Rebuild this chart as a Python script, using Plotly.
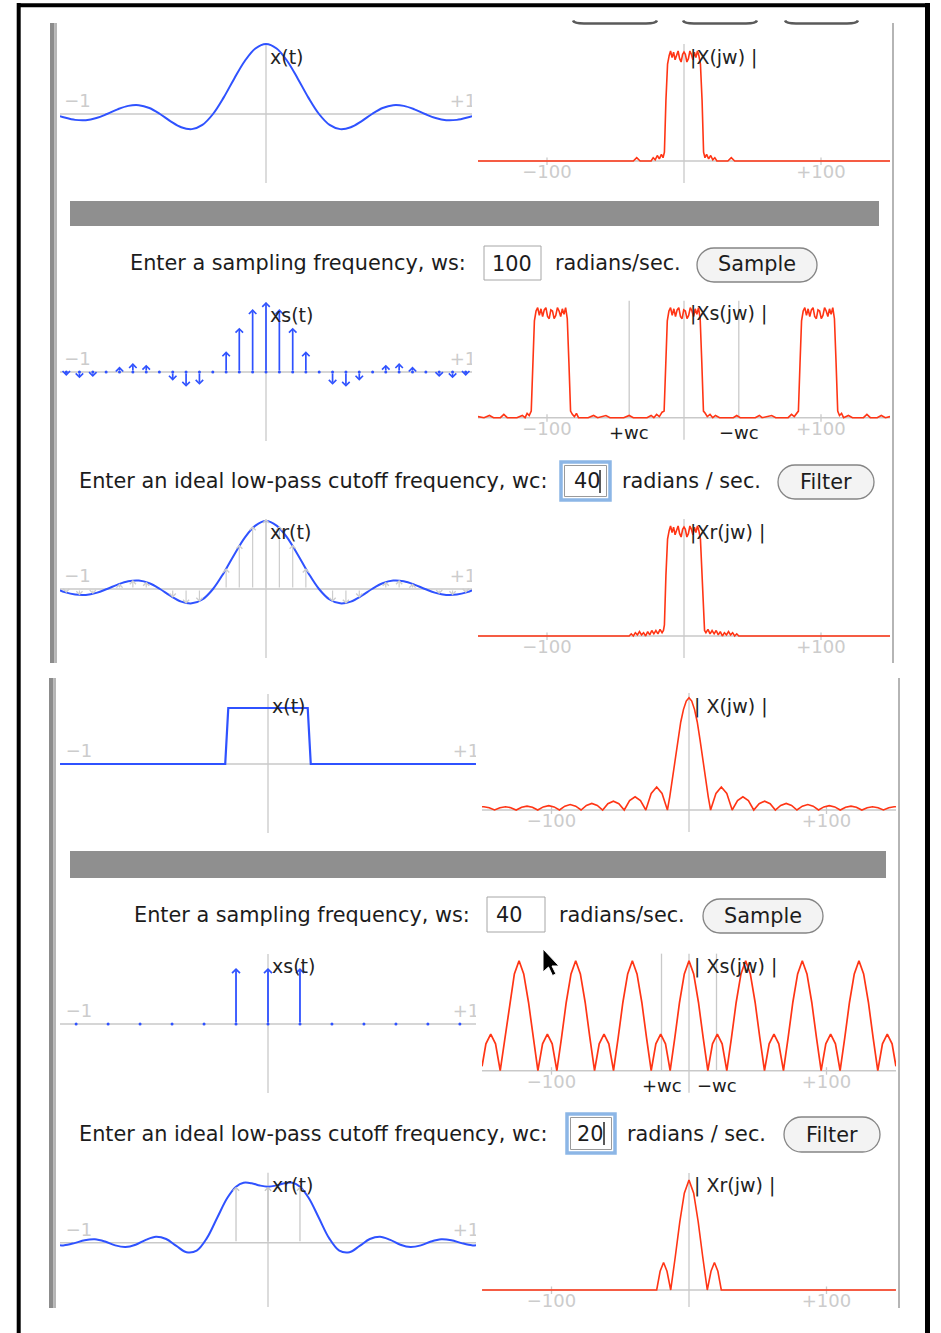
import plotly.graph_objects as go

W, H = 941, 1333
FONT = "DejaVu Sans"
BLUE = "#2f52ff"
RED = "#ff3515"
AXC = "#c9c9c9"
LBL = "#cccccc"
TXT = "#1c1c1c"

# ====================== DATA ======================
# ---------- top panel : ws = 100 rad/s, wc = 40 rad/s ----------
top_ws_text = "100"
top_wc_text = "40"
top_wc = 40

top_t = [-0.972, -0.95, -0.9, -0.85, -0.8, -0.75, -0.7, -0.65, -0.6, -0.55, -0.5, -0.45, -0.4, -0.35,
         -0.3, -0.25, -0.2, -0.15, -0.1, -0.05, 0.0, 0.05, 0.1, 0.15, 0.2, 0.25, 0.3, 0.35, 0.4, 0.45,
         0.5, 0.55, 0.6, 0.65, 0.7, 0.75, 0.8, 0.85, 0.9, 0.95, 0.972]
top_x = [-0.03, -0.05, -0.084, -0.089, -0.058, 0.0, 0.067, 0.116, 0.126, 0.085, 0.0, -0.104, -0.189,
         -0.216, -0.156, 0.0, 0.234, 0.505, 0.757, 0.936, 1.0, 0.936, 0.757, 0.505, 0.234, 0.0, -0.156,
         -0.216, -0.189, -0.104, 0.0, 0.085, 0.126, 0.116, 0.067, 0.0, -0.058, -0.089, -0.084, -0.05, -0.03]
top_xr = [-0.02, -0.045, -0.08, -0.085, -0.055, 0.0, 0.063, 0.11, 0.12, 0.082, 0.0, -0.1, -0.18, -0.205,
          -0.15, 0.0, 0.226, 0.49, 0.735, 0.905, 0.97, 0.905, 0.735, 0.49, 0.226, 0.0, -0.15, -0.205,
          -0.18, -0.1, 0.0, 0.082, 0.12, 0.11, 0.063, 0.0, -0.055, -0.085, -0.08, -0.045, -0.02]

top_ts = [-0.942, -0.880, -0.817, -0.754, -0.691, -0.628, -0.565, -0.503, -0.440, -0.377, -0.314, -0.251,
          -0.188, -0.126, -0.063, 0.0, 0.063, 0.126, 0.188, 0.251, 0.314, 0.377, 0.440, 0.503, 0.565,
          0.628, 0.691, 0.754, 0.817, 0.880, 0.942]
top_xs = [-0.056, -0.090, -0.073, -0.005, 0.078, 0.127, 0.104, 0.005, -0.124, -0.211, -0.183, -0.005,
          0.295, 0.633, 0.899, 1.0, 0.899, 0.633, 0.295, -0.005, -0.183, -0.211, -0.124, 0.005, 0.104,
          0.127, 0.078, -0.005, -0.073, -0.090, -0.056]

top_w = [-150.4, -37, -34.5, -32, -24, -22.5, -21, -19.5, -18, -16.5, -15.3, -14.3, -13.2, -12, -10.8,
         -9.8, -8.7, -7.6, -6.5, -5.4, -4.3, -3.2, -2.1, -1.0, 0.0, 1.0, 2.1, 3.2, 4.3, 5.4, 6.5, 7.6,
         8.7, 9.8, 10.8, 12, 13.2, 14.3, 15.3, 16.5, 18, 19.5, 21, 22.5, 24, 32, 34.5, 37, 150.4]
top_X = [0, 0, 0.03, 0, 0, 0.03, 0.01, 0.05, 0.02, 0.06, 0.03, 0.08, 0.55, 0.88, 0.96, 1.0, 0.94, 0.99,
         0.92, 0.97, 1.0, 0.93, 0.9, 0.97, 0.99, 0.97, 0.9, 0.93, 1.0, 0.97, 0.92, 0.99, 0.94, 1.0, 0.96,
         0.88, 0.55, 0.08, 0.03, 0.06, 0.02, 0.05, 0.01, 0.03, 0, 0, 0.03, 0, 0]

top_wsx = [-150.4, -146, -142, -139, -134, -131.5, -129, -122, -118, -116, -114.5, -113,
           -111.5, -110.3, -109.2, -108, -106.8, -105.6, -104.4, -103.2, -102, -100.8, -99.6, -98.4,
           -97.2, -96, -94.8, -93.6, -92.4, -91.2, -90, -88.8, -87.6, -86.4, -85.2, -84, -82.8,
           -81.5, -80, -78.5, -77, -70, -66, -63, -57, -54, -44, -40, -37, -27, -24, -22, -20, -18, -16,
           -14.5, -13.3, -12.2, -11, -9.8, -8.6, -7.4, -6.2, -5, -3.8, -2.6, -1.4, -0.2, 1, 2.2, 3.4,
           4.6, 5.8, 7, 8.2, 9.4, 10.6, 11.8, 13, 14.2,
           15.5, 17, 19, 21, 23, 26, 36, 38.5, 41, 52, 55, 57, 64, 67, 76, 78.5, 80.5, 82,
           83.5, 84.7, 85.8, 87, 88.2, 89.4, 90.6, 91.8, 93, 94.2, 95.4, 96.6, 97.8, 99, 100.2, 101.4,
           102.6, 103.8, 105, 106.2, 107.4, 108.6, 109.8, 111, 112.2,
           113.5, 115, 116.5, 120, 123, 131, 133.5, 136, 141, 144, 147, 150.4]
top_Xs = [0.01, 0.0, 0.02, 0.0, 0.0, 0.03, 0.0, 0.0, 0.02, 0.0, 0.04, 0.02,
          0.06, 0.5, 0.88, 0.97, 1.0, 0.93, 0.99, 0.92, 0.98, 1.0, 0.92, 0.9, 0.98, 0.97, 0.9, 0.93,
          1.0, 0.97, 0.92, 0.99, 0.94, 1.0, 0.9, 0.5, 0.06,
          0.03, 0.01, 0.04, 0.0, 0.0, 0.02, 0.0, 0.02, 0.0, 0.0, 0.02, 0.0, 0.0, 0.02, 0.0, 0.03, 0.01, 0.05,
          0.06, 0.5, 0.88, 0.97, 1.0, 0.93, 0.99, 0.92, 0.98, 1.0, 0.92, 0.9, 0.98, 0.97, 0.9, 0.93,
          1.0, 0.97, 0.92, 0.99, 0.94, 1.0, 0.9, 0.5, 0.06,
          0.04, 0.01, 0.03, 0.0, 0.02, 0.0, 0.0, 0.02, 0.0, 0.0, 0.02, 0.0, 0.02, 0.0, 0.0, 0.03, 0.01, 0.04,
          0.06, 0.5, 0.88, 0.97, 1.0, 0.93, 0.99, 0.92, 0.98, 1.0, 0.92, 0.9, 0.98, 0.97, 0.9, 0.93,
          1.0, 0.97, 0.92, 0.99, 0.94, 1.0, 0.9, 0.5, 0.06,
          0.02, 0.04, 0.0, 0.02, 0.0, 0.0, 0.03, 0.0, 0.0, 0.02, 0.0, 0.01]

top_wr = [-150.4, -40, -38.5, -37, -35.5, -34, -32.5, -31, -29.5, -28, -26.5, -25, -23.5, -22, -20.5,
          -19, -17.5, -16, -15, -14.3, -13.2, -12, -10.8, -9.8, -8.7, -7.6, -6.5, -5.4, -4.3, -3.2,
          -2.1, -1.0, 0.0, 1.0, 2.1, 3.2, 4.3, 5.4, 6.5, 7.6, 8.7, 9.8, 10.8, 12, 13.2, 14.3, 15, 16,
          17.5, 19, 20.5, 22, 23.5, 25, 26.5, 28, 29.5, 31, 32.5, 34, 35.5, 37, 38.5, 40, 150.4]
top_Xr = [0, 0, 0.02, 0, 0.03, 0.01, 0.04, 0.01, 0.03, 0.0, 0.04, 0.01, 0.05, 0.02, 0.05, 0.02, 0.06,
          0.03, 0.05, 0.1, 0.55, 0.88, 0.96, 1.0, 0.94, 0.99, 0.92, 0.97, 1.0, 0.93, 0.9, 0.97, 0.99,
          0.97, 0.9, 0.93, 1.0, 0.97, 0.92, 0.99, 0.94, 1.0, 0.96, 0.88, 0.55, 0.1, 0.05, 0.03, 0.06,
          0.02, 0.05, 0.02, 0.05, 0.01, 0.04, 0.0, 0.03, 0.01, 0.04, 0.01, 0.03, 0, 0.02, 0, 0]

# ---------- bottom panel : ws = 40 rad/s, wc = 20 rad/s ----------
bot_ws_text = "40"
bot_wc_text = "20"
bot_wc = 20

bot_t = [-1.021, -0.21, -0.195, 0.195, 0.21, 1.021]
bot_x = [0, 0, 0.8, 0.8, 0, 0]

bot_ts = [-0.942, -0.785, -0.628, -0.471, -0.314, -0.157, 0.0, 0.157, 0.314, 0.471, 0.628, 0.785, 0.942]
bot_xs = [0, 0, 0, 0, 0, 0.8, 0.8, 0.8, 0, 0, 0, 0, 0]

bot_tr = [-1.021, -1.0, -0.95, -0.9, -0.85, -0.8, -0.75, -0.7, -0.65, -0.6, -0.55, -0.5, -0.45, -0.4,
          -0.35, -0.3, -0.25, -0.2, -0.157, -0.12, -0.08, -0.04, 0.0, 0.04, 0.08, 0.12, 0.157, 0.2,
          0.25, 0.3, 0.35, 0.4, 0.45, 0.5, 0.55, 0.6, 0.65, 0.7, 0.75, 0.8, 0.85, 0.9, 0.95, 1.0, 1.021]
bot_xr = [-0.035, -0.038, -0.006, 0.035, 0.048, 0.016, -0.038, -0.062, -0.029, 0.041, 0.086, 0.053,
          -0.046, -0.135, -0.113, 0.065, 0.353, 0.638, 0.8, 0.856, 0.849, 0.817, 0.8, 0.817, 0.849,
          0.856, 0.8, 0.638, 0.353, 0.065, -0.113, -0.135, -0.046, 0.053, 0.086, 0.041, -0.029,
          -0.062, -0.038, 0.016, 0.048, 0.035, -0.006, -0.038, -0.035]

bot_w = [-150.5, -149.2, -145.3, -141.4, -137.5, -133.5, -129.6, -125.7, -121.7, -117.8, -113.9, -110,
         -106, -102, -98.1, -94.2, -90.3, -86.4, -82.4, -78.5, -74.6, -70.7, -66.7, -62.8, -59, -55,
         -51, -47.1, -43.2, -39.2, -35.3, -31.4, -27.5, -23.5, -19.6, -15.7, -14, -12, -10, -8, -6, -4,
         -2, 0, 2, 4, 6, 8, 10, 12, 14, 15.7, 19.6, 23.5, 27.5, 31.4, 35.3, 39.2, 43.2, 47.1, 51, 55,
         59, 62.8, 66.7, 70.7, 74.6, 78.5, 82.4, 86.4, 90.3, 94.2, 98.1, 102, 106, 110, 113.9, 117.8,
         121.7, 125.7, 129.6, 133.5, 137.5, 141.4, 145.3, 149.2, 150.5]
bot_X = [0.029, 0.03, 0.021, 0, 0.021, 0.03, 0.021, 0, 0.025, 0.035, 0.025, 0, 0.028, 0.04, 0.028, 0,
         0.035, 0.05, 0.035, 0, 0.042, 0.06, 0.042, 0, 0.057, 0.08, 0.057, 0, 0.085, 0.12, 0.085, 0,
         0.15, 0.21, 0.15, 0, 0.12, 0.29, 0.46, 0.64, 0.8, 0.915, 0.99, 1.02, 0.99, 0.915, 0.8, 0.64,
         0.46, 0.29, 0.12, 0, 0.15, 0.21, 0.15, 0, 0.085, 0.12, 0.085, 0, 0.057, 0.08, 0.057, 0, 0.042,
         0.06, 0.042, 0, 0.035, 0.05, 0.035, 0, 0.028, 0.04, 0.028, 0, 0.025, 0.035, 0.025, 0, 0.021,
         0.03, 0.021, 0, 0.021, 0.03, 0.029]

bot_wsx = [-150.5, -147.7, -144.2, -140.7, -137.3, -133.9, -130.5, -127.0, -123.6, -120.2, -116.7,
           -113.3, -109.9, -106.5, -103.0, -99.5, -96.1, -92.7, -89.3, -85.8, -82.4, -79.0, -75.5,
           -72.1, -68.7, -65.3, -61.8, -58.3, -54.9, -51.5, -48.1, -44.6, -41.2, -37.8, -34.3, -30.9,
           -27.5, -24.1, -20.6, -17.1, -13.7, -10.3, -6.9, -3.4, 0.0, 3.4, 6.9, 10.3, 13.7, 17.1, 20.6,
           24.1, 27.5, 30.9, 34.3, 37.8, 41.2, 44.6, 48.1, 51.5, 54.9, 58.3, 61.8, 65.3, 68.7, 72.1,
           75.5, 79.0, 82.4, 85.8, 89.3, 92.7, 96.1, 99.5, 103.0, 106.5, 109.9, 113.3, 116.7, 120.2,
           123.6, 127.0, 130.5, 133.9, 137.3, 140.7, 144.2, 147.7, 150.5]
bot_Xs = [0.04, 0.244, 0.333, 0.244, 0, 0.3, 0.62, 0.88, 1, 0.88, 0.62, 0.3, 0, 0.244, 0.333, 0.244,
          0, 0.3, 0.62, 0.88, 1, 0.88, 0.62, 0.3, 0, 0.244, 0.333, 0.244, 0, 0.3, 0.62, 0.88, 1, 0.88,
          0.62, 0.3, 0, 0.244, 0.333, 0.244, 0, 0.3, 0.62, 0.88,
          1, 0.88, 0.62, 0.3, 0, 0.244, 0.333, 0.244, 0, 0.3, 0.62, 0.88, 1, 0.88, 0.62, 0.3, 0, 0.244,
          0.333, 0.244, 0, 0.3, 0.62, 0.88, 1, 0.88, 0.62, 0.3, 0, 0.244, 0.333, 0.244, 0, 0.3, 0.62,
          0.88, 1, 0.88, 0.62, 0.3, 0, 0.244, 0.333, 0.244, 0.04]

bot_wr = [-150.5, -23.5, -21, -18.5, -16, -13.3, -10, -6.7, -3.4, 0, 3.4, 6.7, 10, 13.3, 16, 18.5, 21,
          23.5, 150.5]
bot_Xr = [0, 0, 0.17, 0.25, 0.17, 0, 0.3, 0.62, 0.88, 1.0, 0.88, 0.62, 0.3, 0, 0.17, 0.25, 0.17, 0, 0]

for a, b in [(top_t, top_x), (top_t, top_xr), (top_ts, top_xs), (top_w, top_X), (top_wsx, top_Xs),
             (top_wr, top_Xr), (bot_t, bot_x), (bot_ts, bot_xs), (bot_tr, bot_xr), (bot_w, bot_X),
             (bot_wsx, bot_Xs), (bot_wr, bot_Xr)]:
    assert len(a) == len(b), (len(a), len(b))


# ====================== LAYOUT HELPERS ======================
def X(p):
    return p / W


def Y(p):
    return 1 - p / H


# subplot geometry in screen pixels: (x0, x1, x_center, px/unit, y0, y1, y_zero, px/unit, kind)
geo = {
    1: (60, 472, 266, 212.0, 38, 190, 114, 70.0, "t"),
    2: (478, 890, 684, 1.37, 38, 190, 161, 110.0, "w"),
    3: (60, 472, 266, 212.0, 295, 448, 372, 70.0, "t"),
    4: (478, 890, 684, 1.37, 295, 448, 417.7, 110.0, "w"),
    5: (60, 472, 266, 212.0, 512, 663, 589, 70.0, "t"),
    6: (478, 890, 684, 1.37, 512, 663, 636, 110.0, "w"),
    7: (60, 476, 268, 203.7, 686, 840, 764, 70.0, "t"),
    8: (482, 896, 689, 1.375, 686, 840, 810, 110.0, "w"),
    9: (60, 476, 268, 203.7, 946, 1100, 1024, 70.0, "t"),
    10: (482, 896, 689, 1.375, 946, 1100, 1070.7, 110.0, "w"),
    11: (60, 476, 268, 203.7, 1165, 1307, 1242.7, 70.0, "t"),
    12: (482, 896, 689, 1.375, 1165, 1307, 1290, 110.0, "w"),
}


def sfx(i):
    return "" if i == 1 else str(i)


layout = dict(width=W, height=H, margin=dict(l=0, r=0, t=0, b=0), paper_bgcolor="white",
              plot_bgcolor="rgba(0,0,0,0)", showlegend=False, font=dict(family=FONT))
shapes, anns, traces = [], [], []

for i, (x0, x1, xc, sx, y0, y1, z, sy, kind) in geo.items():
    s = sfx(i)
    xr = [(x0 - xc) / sx, (x1 - xc) / sx]
    yr = [(z - y1) / sy, (z - y0) / sy]
    layout["xaxis" + s] = dict(domain=[X(x0), X(x1)], range=xr, visible=False, fixedrange=True,
                               anchor="y" + s)
    layout["yaxis" + s] = dict(domain=[Y(y1), Y(y0)], range=yr, visible=False, fixedrange=True,
                               anchor="x" + s)
    # axis lines
    shapes.append(dict(type="line", xref="x" + s, yref="y" + s, x0=xr[0], x1=xr[1], y0=0, y1=0,
                       line=dict(color=AXC, width=1.5), layer="below"))
    if kind == "t":
        shapes.append(dict(type="line", xref="x" + s, yref="y" + s, x0=0, x1=0, y0=-0.986, y1=1.0,
                           line=dict(color=AXC, width=1.3), layer="below"))
        lx = [(77.5 - xc) / sx if x1 == 472 else (79 - xc) / sx,
              (463 - xc) / sx if x1 == 472 else (466 - xc) / sx]
        traces.append(go.Scatter(x=lx, y=[11.5 / sy] * 2, mode="text", text=["\u22121", "+1"],
                                 textfont=dict(family=FONT, size=18, color=LBL), cliponaxis=True,
                                 xaxis="x" + s, yaxis="y" + s, hoverinfo="skip"))
    else:
        shapes.append(dict(type="line", xref="x" + s, yref="y" + s, x0=0, x1=0, y0=-0.2, y1=1.064,
                           line=dict(color=AXC, width=1.3), layer="below"))
        for tv in (-100, 100):
            shapes.append(dict(type="line", xref="x" + s, yref="y" + s, x0=tv, x1=tv,
                               y0=-4 / sy, y1=3.5 / sy, line=dict(color=AXC, width=1.3), layer="below"))
        traces.append(go.Scatter(x=[-100, 100], y=[-12.5 / sy] * 2, mode="text",
                                 text=["\u2212100", "+100"],
                                 textfont=dict(family=FONT, size=18, color=LBL), cliponaxis=True,
                                 xaxis="x" + s, yaxis="y" + s, hoverinfo="skip"))

# wc marker lines
for i, wc in ((4, top_wc), (10, bot_wc)):
    s = sfx(i)
    for v in (-wc, wc):
        shapes.append(dict(type="line", xref="x" + s, yref="y" + s, x0=v, x1=v, y0=0, y1=1.064,
                           line=dict(color=AXC, width=1.3), layer="below"))


def curve(i, xs, ys, color, width=1.8, shape="linear"):
    s = sfx(i)
    traces.append(go.Scatter(x=xs, y=ys, mode="lines", line=dict(color=color, width=width, shape=shape),
                             xaxis="x" + s, yaxis="y" + s, hoverinfo="skip"))


def stems(i, ts, vs, color, width, size, dots=True):
    s = sfx(i)
    if dots:
        traces.append(go.Scatter(x=ts, y=[0] * len(ts), mode="markers",
                                 marker=dict(color=color, size=3), xaxis="x" + s, yaxis="y" + s,
                                 hoverinfo="skip"))
    for t, v in zip(ts, vs):
        if abs(v) < 0.02:
            continue
        anns.append(dict(xref="x" + s, yref="y" + s, axref="x" + s, ayref="y" + s, x=t, y=v, ax=t, ay=0,
                         text="", showarrow=True, arrowhead=4, arrowsize=size, arrowwidth=width,
                         arrowcolor=color))


# --- top panel traces ---
curve(1, top_t, top_x, BLUE, 2, "spline")
curve(2, top_w, top_X, RED, 1.6)
stems(3, top_ts, top_xs, BLUE, 1.7, 0.85)
curve(4, top_wsx, top_Xs, RED, 1.6)
stems(5, top_ts, top_xs, "#cdcdcd", 1.2, 1.0, dots=False)
curve(5, top_t, top_xr, BLUE, 2, "spline")
curve(6, top_wr, top_Xr, RED, 1.6)
# --- bottom panel traces ---
curve(7, bot_t, bot_x, BLUE, 2.2)
curve(8, bot_w, bot_X, RED, 1.6)
stems(9, bot_ts, bot_xs, BLUE, 1.8, 0.85)
curve(10, bot_wsx, bot_Xs, RED, 1.7)
stems(11, bot_ts, bot_xs, "#c4c4c4", 1.2, 1.0, dots=False)
curve(11, bot_tr, bot_xr, BLUE, 2, "spline")
curve(12, bot_wr, bot_Xr, RED, 1.6)


# ====================== TEXT ======================
def txt(s, x, y, size=20.8, color=TXT, xanchor="left"):
    anns.append(dict(text=s, x=X(x), y=Y(y), xref="paper", yref="paper", xanchor=xanchor,
                     yanchor="middle", showarrow=False, font=dict(family=FONT, size=size, color=color)))


txt("Enter a sampling frequency, ws:", 468, 263, xanchor="right")
txt(top_ws_text, 490, 264)
txt("radians/sec.", 553, 263)
txt("Sample", 757, 264, xanchor="center")
txt("Enter an ideal low-pass cutoff frequency, wc:", 77, 481)
txt(top_wc_text, 572, 481)
txt("radians / sec.", 620, 481)
txt("Filter", 826, 482, xanchor="center")

txt("Enter a sampling frequency, ws:", 472, 915, xanchor="right")
txt(bot_ws_text, 494, 915)
txt("radians/sec.", 557, 915)
txt("Sample", 763, 916, xanchor="center")
txt("Enter an ideal low-pass cutoff frequency, wc:", 77, 1134)
txt(bot_wc_text, 575, 1134)
txt("radians / sec.", 625, 1134)
txt("Filter", 832, 1135, xanchor="center")

PL = 19
for s_, x_, y_ in [("x(t)", 268, 57), ("|X(jw) |", 688, 57), ("xs(t)", 268, 315), ("|Xs(jw) |", 688, 314),
                   ("xr(t)", 268, 532), ("|Xr(jw) |", 688, 532),
                   ("x(t)", 270, 706), ("| X(jw) |", 692, 706), ("xs(t)", 270, 966),
                   ("| Xs(jw) |", 692, 966), ("xr(t)", 270, 1185), ("| Xr(jw) |", 692, 1185)]:
    txt(s_, x_, y_, size=PL, color="#222222")

# +wc / -wc labels tied to the wc lines
for i, wc, ypx in ((4, top_wc, 433), (10, bot_wc, 1085)):
    s = sfx(i)
    for v, lab in ((-wc, "+wc"), (wc, "\u2212wc")):
        anns.append(dict(text=lab, x=v, y=Y(ypx), xref="x" + s, yref="paper", xanchor="center",
                         yanchor="middle", showarrow=False, font=dict(family=FONT, size=18, color=TXT)))


# ====================== DECORATION SHAPES ======================
def rect(x0, y0, x1, y1, fill=None, line=None, lw=0):
    shapes.append(dict(type="rect", xref="paper", yref="paper", x0=X(x0), x1=X(x1), y0=Y(y1), y1=Y(y0),
                       fillcolor=fill if fill else "rgba(0,0,0,0)",
                       line=dict(color=line if line else "rgba(0,0,0,0)", width=lw), layer="below"))


def seg(x0, y0, x1, y1, color, w, layer="below"):
    shapes.append(dict(type="line", xref="paper", yref="paper", x0=X(x0), x1=X(x1), y0=Y(y0), y1=Y(y1),
                       line=dict(color=color, width=w), layer=layer))


def P(x, y):
    return f"{X(x):.6f},{Y(y):.6f}"


def pill(x0, y0, x1, y1):
    r = (y1 - y0) / 2
    k = 0.5523 * r
    d = (f"M {P(x0 + r, y0)} L {P(x1 - r, y0)} C {P(x1 - r + k, y0)} {P(x1, y0 + r - k)} {P(x1, y0 + r)} "
         f"C {P(x1, y0 + r + k)} {P(x1 - r + k, y1)} {P(x1 - r, y1)} L {P(x0 + r, y1)} "
         f"C {P(x0 + r - k, y1)} {P(x0, y0 + r + k)} {P(x0, y0 + r)} "
         f"C {P(x0, y0 + r - k)} {P(x0 + r - k, y0)} {P(x0 + r, y0)} Z")
    shapes.append(dict(type="path", xref="paper", yref="paper", path=d, fillcolor="#f3f3f3",
                       line=dict(color="#858585", width=1.3), layer="below"))


def pill_bottom(x0, x1, y):
    d = (f"M {P(x0, y - 3)} C {P(x0 + 1, y - 0.5)} {P(x0 + 5, y)} {P(x0 + 11, y)} L {P(x1 - 11, y)} "
         f"C {P(x1 - 5, y)} {P(x1 - 1, y - 0.5)} {P(x1, y - 3)}")
    shapes.append(dict(type="path", xref="paper", yref="paper", path=d,
                       line=dict(color="#5a5a5a", width=2.6), layer="below"))


# outer black frame
seg(18.7, 3, 18.7, 1333, "black", 4)
seg(17, 5.3, 930, 5.3, "black", 4)
seg(927.5, 3, 927.5, 1333, "black", 5)

# top panel frame
rect(50, 23, 54.5, 663, fill="#8c8c8c")
rect(54.5, 23, 57, 663, fill="#b6b6b6")
seg(893, 23, 893, 663, "#b5b5b5", 2)
for a, b in ((573, 657), (683, 757), (785, 858)):
    pill_bottom(a, b, 23.5)
rect(70, 201, 879, 226, fill="#8f8f8f")

# top panel controls
rect(484, 246, 541, 280, fill="white", line="#a6a6a6", lw=1)
pill(697, 248, 817, 282)
rect(561, 462, 610, 500, fill="white", line="#8cb6e6", lw=3.5)
rect(564.5, 465.5, 606.5, 496.5, line="#9a9a9a", lw=1)
seg(600, 470, 600, 493, "black", 1.3, layer="above")
pill(778, 465, 874, 499)

# bottom panel frame
rect(49, 678, 53.5, 1308, fill="#8c8c8c")
rect(53.5, 678, 56, 1308, fill="#b6b6b6")
seg(899, 678, 899, 1308, "#b5b5b5", 2)
rect(70, 851, 886, 878, fill="#8f8f8f")

# bottom panel controls
rect(487, 897, 545, 932, fill="white", line="#a6a6a6", lw=1)
pill(703, 899, 823, 933)
rect(567, 1114, 615, 1153, fill="white", line="#8cb6e6", lw=3.5)
rect(570.5, 1117.5, 611.5, 1149.5, line="#9a9a9a", lw=1)
seg(604, 1122, 604, 1145, "black", 1.3, layer="above")
pill(784, 1117, 880, 1152)

# mouse pointer
cx, cy = 543, 949
pts = [(0, 0), (0, 23), (5.5, 18), (9.5, 26.5), (13, 25), (9, 17), (16, 17)]
d = "M " + " L ".join(P(cx + a, cy + b) for a, b in pts) + " Z"
shapes.append(dict(type="path", xref="paper", yref="paper", path=d, fillcolor="black",
                   line=dict(color="white", width=1), layer="above"))

layout["shapes"] = shapes
layout["annotations"] = anns

fig = go.Figure(data=traces, layout=layout)
fig.write_html("out.html", config={"displayModeBar": False},
               post_script="document.body.style.margin='0px';document.body.style.padding='0px';"
                           "document.documentElement.style.overflow='hidden';")
